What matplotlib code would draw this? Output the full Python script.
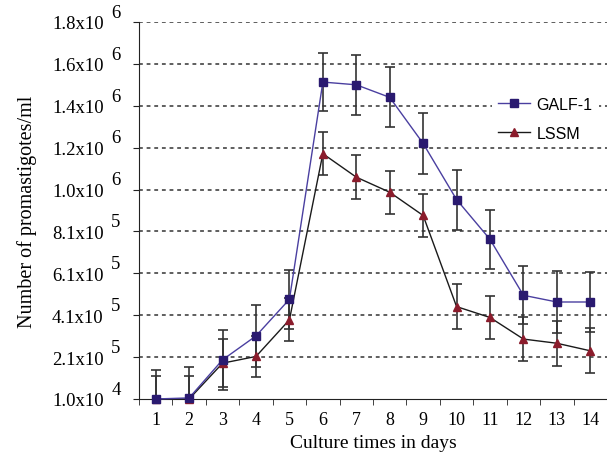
import matplotlib.pyplot as plt
import numpy as np

days = np.arange(1, 15)

# values in units of 1e6 promastigotes/ml
galf = [0.01, 0.015, 0.197, 0.311, 0.486, 1.523, 1.51, 1.45, 1.23, 0.962, 0.772, 0.505, 0.473, 0.473]
galf_err = [0.138, 0.148, 0.143, 0.148, 0.140, 0.140, 0.143, 0.143, 0.145, 0.143, 0.140, 0.138, 0.147, 0.144]
lssm = [0.01, 0.01, 0.181, 0.213, 0.388, 1.181, 1.069, 0.997, 0.886, 0.451, 0.399, 0.296, 0.276, 0.24]
lssm_err = [0.110, 0.110, 0.114, 0.100, 0.103, 0.102, 0.105, 0.103, 0.105, 0.106, 0.103, 0.107, 0.107, 0.107]

ytick_vals = [0.01 + 0.2 * k for k in range(10)]
ytick_mant = ["1.0", "2.1", "4.1", "6.1", "8.1", "1.0", "1.2", "1.4", "1.6", "1.8"]
ytick_exp = ["4", "5", "5", "5", "5", "6", "6", "6", "6", "6"]

serif = "Liberation Serif"

fig = plt.figure(figsize=(6.07, 4.64), dpi=100)
ax = fig.add_axes([0.229, 0.138, 0.771, 0.8125])

# grid
for y in ytick_vals[1:]:
    ax.axhline(y, color="#333333", lw=1.1, ls=(0, (2.5, 2.5)), zorder=1)

# error bars
ax.errorbar(days, galf, yerr=galf_err, fmt="none", ecolor="#333333",
            elinewidth=1.2, capsize=3.5, capthick=1.2, zorder=2)
ax.errorbar(days, lssm, yerr=lssm_err, fmt="none", ecolor="#333333",
            elinewidth=1.2, capsize=3.5, capthick=1.2, zorder=2)

ax.plot(days, lssm, color="#1a1a1a", lw=1.0, marker="^", ms=6,
        mfc="#8b1c2c", mec="#8b1c2c", label="LSSM", zorder=3, clip_on=False)
ax.plot(days, galf, color="#4a3fa0", lw=1.0, marker="s", ms=5.5,
        mfc="#2a1a70", mec="#2a1a70", label="GALF-1", zorder=4, clip_on=False)

ax.set_xlim(0.5, 14.5)
ax.set_ylim(0.01, 1.81)

ax.spines["top"].set_visible(False)
ax.spines["right"].set_visible(False)
ax.spines["left"].set_color("#222222")
ax.spines["bottom"].set_color("#222222")

# x ticks: labels at days, tick marks between days
ax.set_xticks(days)
ax.set_xticklabels([str(d) for d in days], fontfamily=serif, fontsize=13)
ax.tick_params(axis="x", which="major", length=0, pad=9)
ax.set_xticks(np.arange(0.5, 15, 1.0), minor=True)
ax.tick_params(axis="x", which="minor", length=4, direction="out", color="#222222")

ax.set_yticks(ytick_vals)
ax.set_yticklabels([m + "x10" for m in ytick_mant], fontfamily=serif, fontsize=13.5)
ax.tick_params(axis="y", length=4.5, direction="out", pad=21, color="#222222")

# exponents next to the y tick labels
for y, e in zip(ytick_vals, ytick_exp):
    ax.annotate(e, xy=(0, y), xycoords=("axes fraction", "data"),
                xytext=(-20, 7), textcoords="offset points",
                ha="left", va="center", fontfamily=serif, fontsize=13.5)

ax.set_xlabel("Culture times in days", fontfamily=serif, fontsize=14, labelpad=4)
ax.set_ylabel("Number of promastigotes/ml", fontfamily=serif, fontsize=14.5, labelpad=11)

handles, labels = ax.get_legend_handles_labels()
leg = ax.legend(handles[::-1], labels[::-1], loc="upper right",
                bbox_to_anchor=(1.0, 0.84), frameon=True, framealpha=1,
                edgecolor="white", handlelength=2.0, handletextpad=0.4,
                prop={"family": "Liberation Sans", "size": 11.5},
                borderpad=0.4, labelspacing=0.9)
leg.get_frame().set_linewidth(0)

fig.savefig("out.png", dpi=100)
